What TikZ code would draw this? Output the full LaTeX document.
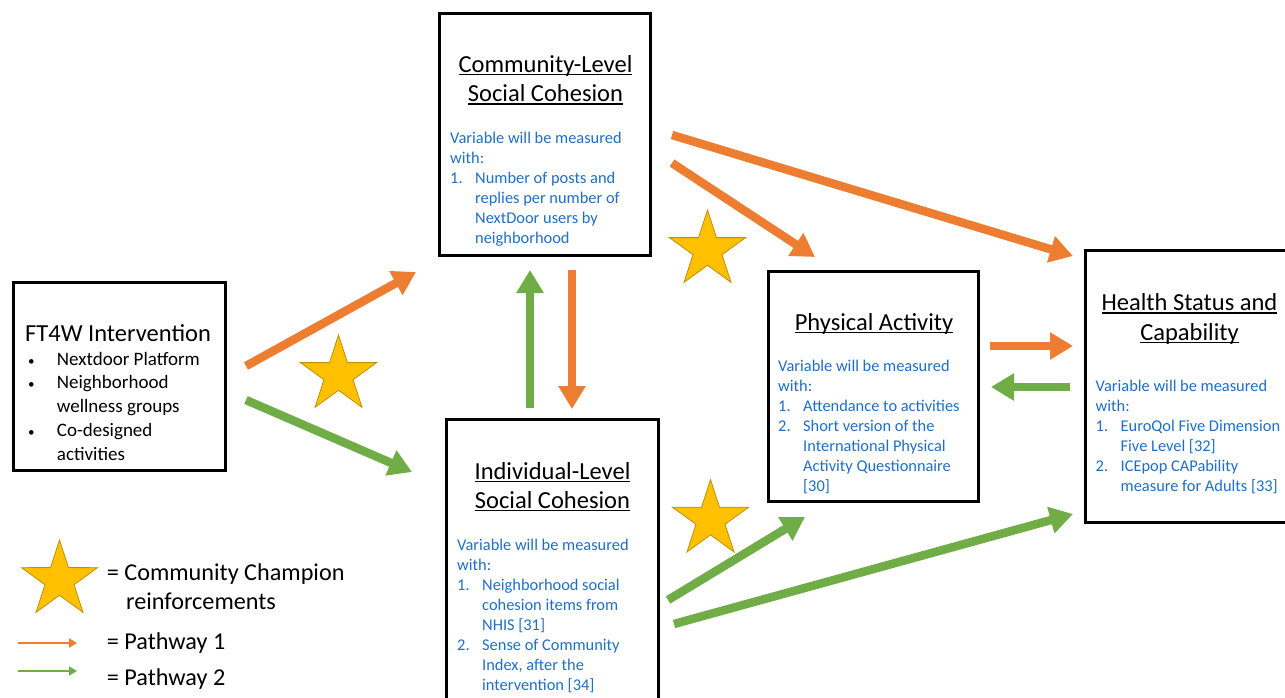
\documentclass[tikz,border=0pt]{standalone}
\usepackage{fontspec}
\setmainfont{Carlito}
\usetikzlibrary{arrows.meta,shapes.geometric}
\definecolor{porange}{HTML}{ED7D31}
\definecolor{pgreen}{HTML}{70AD47}
\definecolor{mblue}{HTML}{1F6FC6}
\definecolor{starfill}{HTML}{FFC000}
\definecolor{staredge}{HTML}{BF9000}
\newcommand\myul[1]{\setbox0\hbox{#1}\rlap{\rule[-3pt]{\wd0}{1.3pt}}\box0}
\newcommand\itm[1]{\makebox[25pt][l]{#1}}
\newcommand\ind{\hspace*{25pt}}
\newcommand\bul{\makebox[30.7pt][l]{\hspace*{2pt}{\fontsize{13}{13}\selectfont •}}}
\tikzset{
  box/.style={draw=black, line width=3pt, inner sep=0pt, fill=white},
  ttl/.style={anchor=base, align=center, inner sep=0pt, font=\fontsize{24.5}{29.3}\selectfont},
  blu/.style={anchor=base west, align=left, inner sep=0pt, text=mblue, font=\fontsize{16.4}{20}\selectfont},
  fat/.style={line width=8.5pt, -{Triangle[length=23pt,width=26pt]}},
  thin/.style={line width=2.5pt, -{Triangle[length=8pt,width=9pt]}},
  champ/.style={star, star points=5, star point ratio=2.618, minimum size=80pt, inner sep=0pt, fill=starfill, draw=staredge, line width=0.8pt},
  leg/.style={anchor=base west, align=left, inner sep=0pt, font=\fontsize{24.2}{29.3}\selectfont}
}
\begin{document}
\begin{tikzpicture}[x=1pt,y=-1pt]
\useasboundingbox (0,0) rectangle (1285,697);
\clip (0,0) rectangle (1285,697);
\fill[white] (0,0) rectangle (1285,697);

% boxes
\node[box, minimum width=212pt, minimum height=188pt] (ft) at (119.5,376) {};
\node[box, minimum width=211pt, minimum height=242pt] (comm) at (545,134.5) {};
\node[box, minimum width=212pt, minimum height=300pt] (indiv) at (552.5,569.5) {};
\node[box, minimum width=210pt, minimum height=230pt] (phys) at (873.5,386.5) {};
\node[box, minimum width=209pt, minimum height=272pt] (health) at (1190,386) {};

% FT4W (multi-line nodes: base anchor = last line baseline)
\node[anchor=base west, inner sep=0pt, font=\fontsize{24.5}{29.3}\selectfont] (fttitle) at (25,341.7) {FT4W Intervention};
\node[anchor=base west, align=left, inner sep=0pt, font=\fontsize{19}{23.7}\selectfont] (ftlist) at (26,460)
 {\bul Nextdoor Platform\\
  \bul Neighborhood\\
  \hspace*{30.7pt}wellness groups\\
  \bul Co-designed\\
  \hspace*{30.7pt}activities};

% Community
\node[ttl] (commtitle) at (545.5,101.7) {\myul{Community-Level}\\\myul{Social Cohesion}};
\node[blu] (commtext) at (450,243) {Variable will be measured\\with:\\\itm{1.}Number of posts and\\\ind replies per number of\\\ind NextDoor users by\\\ind neighborhood};

% Individual
\node[ttl] (indtitle) at (552.5,508.3) {\myul{Individual-Level}\\\myul{Social Cohesion}};
\node[blu] (indtext) at (457,690.7) {Variable will be measured\\with:\\\itm{1.}Neighborhood social\\\ind cohesion items from\\\ind NHIS [31]\\\itm{2.}Sense of Community\\\ind Index, after the\\\ind intervention [34]};

% Physical
\node[ttl] (phystitle) at (874,330) {\myul{Physical Activity}};
\node[blu] (phystext) at (778,491.7) {Variable will be measured\\with:\\\itm{1.}Attendance to activities\\\itm{2.}Short version of the\\\ind International Physical\\\ind Activity Questionnaire\\\ind [30]};

% Health
\node[ttl] (healthtitle) at (1189.5,340) {\myul{Health Status and}\\\myul{Capability}};
\node[blu] (healthtext) at (1095.5,491.7) {Variable will be measured\\with:\\\itm{1.}EuroQol Five Dimension\\\ind Five Level [32]\\\itm{2.}ICEpop CAPability\\\ind measure for Adults [33]};

% stars
\node[champ] (s1) at (338.5,375) {};
\node[champ] (s2) at (707.5,250) {};
\node[champ] (s3) at (710.5,519.6) {};
\node[champ] (s4) at (59.5,580) {};

% arrow end points
\coordinate (a1s) at (246,366); \coordinate (a1e) at (416,272);
\coordinate (a2s) at (246,400); \coordinate (a2e) at (412,472);
\coordinate (a3s) at (530,408); \coordinate (a3e) at (530,270);
\coordinate (a4s) at (572,270); \coordinate (a4e) at (572,409);
\coordinate (a5s) at (672,163); \coordinate (a5e) at (815,257);
\coordinate (a6s) at (672,135); \coordinate (a6e) at (1073,256);
\coordinate (a7s) at (990,346); \coordinate (a7e) at (1073,346);
\coordinate (a8s) at (1070,387); \coordinate (a8e) at (991,387);
\coordinate (a9s) at (668,600); \coordinate (a9e) at (805,517);
\coordinate (a10s) at (674,624); \coordinate (a10e) at (1073,514);

\draw[fat, porange] (a1s) -- (a1e);
\draw[fat, pgreen] (a2s) -- (a2e);
\draw[fat, pgreen] (a3s) -- (a3e);
\draw[fat, porange] (a4s) -- (a4e);
\draw[fat, porange] (a5s) -- (a5e);
\draw[fat, porange] (a6s) -- (a6e);
\draw[fat, porange] (a7s) -- (a7e);
\draw[fat, pgreen] (a8s) -- (a8e);
\draw[fat, pgreen] (a9s) -- (a9e);
\draw[fat, pgreen] (a10s) -- (a10e);

% legend
\node[leg] (l1) at (106.7,580) {= Community Champion};
\node[leg] (l2) at (126,609.3) {reinforcements};
\coordinate (lo1) at (18,643); \coordinate (lo2) at (77,643);
\coordinate (lg1) at (18,671); \coordinate (lg2) at (77,671);
\draw[thin, porange] (lo1) -- (lo2);
\draw[thin, pgreen] (lg1) -- (lg2);
\node[leg] (l3) at (106.7,649.3) {= Pathway 1};
\node[leg] (l4) at (106.7,685.7) {= Pathway 2};
\end{tikzpicture}
\end{document}
